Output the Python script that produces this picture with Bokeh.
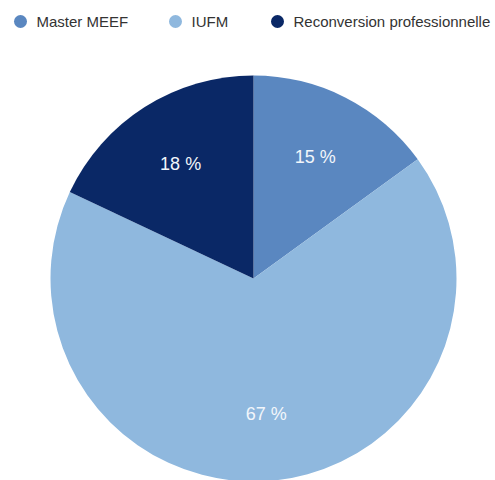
import math
from bokeh.plotting import figure
from bokeh.models import ColumnDataSource, Range1d
from bokeh.core.properties import value
from bokeh.embed import file_html
from bokeh.resources import INLINE

categories = ["Master MEEF", "IUFM", "Reconversion professionnelle"]
shares = [15, 67, 18]
labels = ["15 %", "67 %", "18 %"]
colors = ["#5a87c0", "#8fb8de", "#0a2866"]

W, H = 495, 480
p = figure(width=W, height=H, output_backend="svg", toolbar_location=None,
           x_range=Range1d(0, W), y_range=Range1d(0, H), min_border=0,
           outline_line_color=None, background_fill_color="white")
p.axis.visible = False
p.grid.visible = False

cx, cy, R = 253, 202, 203
total = sum(shares)
starts, ends, mids = [], [], []
a = math.pi / 2
for s in shares:
    sweep = 2 * math.pi * s / total
    starts.append(a)
    ends.append(a - sweep)
    mids.append(a - sweep / 2)
    a -= sweep

src = ColumnDataSource(dict(start=starts, end=ends, color=colors,
                            lx=[cx + 0.67 * R * math.cos(m) for m in mids],
                            ly=[cy + 0.67 * R * math.sin(m) for m in mids],
                            label=labels))
p.wedge(x=cx, y=cy, radius=R, start_angle="start", end_angle="end",
        direction="clock", fill_color="color", line_color=None, source=src)
p.text(x="lx", y="ly", text="label", source=src, text_color="#f2f6fb",
       text_font=value("Liberation Sans"), text_font_size="18px",
       text_align="center", text_baseline="middle")

# legend
leg_x = [20, 175, 277]
leg_y = H - 21
lsrc = ColumnDataSource(dict(x=leg_x, tx=[x + 16 for x in leg_x], y=[leg_y] * 3,
                             color=colors, name=categories))
p.scatter(x="x", y="y", size=13, marker="circle", fill_color="color",
          line_color=None, source=lsrc)
p.text(x="tx", y="y", text="name", source=lsrc, text_color="#333333",
       text_font=value("Liberation Sans"), text_font_size="15px",
       text_align="left", text_baseline="middle")

open("out.html", "w").write(file_html(p, INLINE))
